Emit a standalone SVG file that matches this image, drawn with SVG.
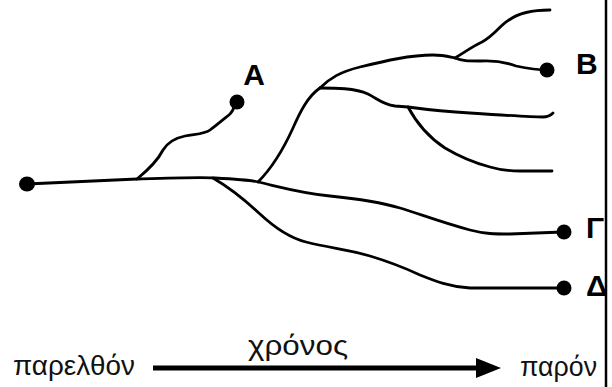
<svg xmlns="http://www.w3.org/2000/svg" width="612" height="387" viewBox="0 0 612 387">
<style>
.br{fill:none;stroke:#000;stroke-width:2.8;stroke-linecap:round;stroke-linejoin:round}
.dot{fill:#000}
.lbl{font-family:"Liberation Sans",Arial,sans-serif;font-weight:bold;font-size:30px;fill:#000}
.tm{font-family:"Liberation Sans",Arial,sans-serif;font-size:28px;fill:#111}
</style>
<rect width="612" height="387" fill="#fff"/>
<g id="connectors">
<path class="br" d="M27,184 L137,179 C170,178 200,177 215,178 C235,179 250,180 258,182 C280,187 300,193 330,196 C360,199 380,202 400,208 C420,214 440,222 470,230 C485,234 495,234 510,234 L563,232"/>
<path class="br" d="M213,178 C230,188 245,200 260,214 C275,228 290,238 306,242 C330,248 350,250 370,256 C390,262 405,268 420,275 C435,281 450,287 470,288 L563,288"/>
<path class="br" d="M137,179 C148,170 158,160 163,150 C168,142 175,138 185,136 C195,134 205,134 210,130 C218,124 225,118 230,114 C234,110 234,106 237,102"/>
<path class="br" d="M258,182 C272,168 283,150 293,128 C300,112 308,96 320,88"/>
<path class="br" d="M320,88 C330,78 340,72 360,67 C385,61 410,55 433,55 C443,55 450,57 455,58 C462,61 468,61 480,61 C495,60 505,62 516,66 C530,69 538,70 548,70"/>
<path class="br" d="M455,58 C468,50 475,45 482,42 C495,35 500,25 509,20 C520,12 535,10 550,10"/>
<path class="br" d="M320,88 C335,88 355,88 368,94 C378,99 382,104 395,106 L408,107 C430,110 450,112 470,113 C500,115 530,117 543,117 C548,117 551,115 553,113"/>
<path class="br" d="M408,107 C415,120 425,135 445,148 C460,157 475,163 490,167 C500,170 510,171 520,171 L552,171"/>
</g>
<g id="origin"><ellipse class="dot" cx="27" cy="184" rx="8" ry="7.5"/></g>
<g id="A"><circle class="dot" cx="237" cy="102" r="7.5"/><text class="lbl" x="254" y="85" text-anchor="middle">A</text></g>
<g id="B"><circle class="dot" cx="547" cy="70" r="7.5"/><text class="lbl" x="576" y="74">B</text></g>
<g id="G"><circle class="dot" cx="564" cy="232" r="7.5"/><text class="lbl" x="586" y="238">Γ</text></g>
<g id="D"><circle class="dot" cx="564" cy="288" r="7.5"/><text class="lbl" x="586" y="296">Δ</text></g>
<g id="timeline">
<line x1="153" y1="368" x2="482" y2="368" stroke="#000" stroke-width="5"/>
<polygon points="476,358 501,368 476,378" fill="#000"/>
<text class="tm" x="13" y="375" textLength="122" lengthAdjust="spacingAndGlyphs">παρελθόν</text>
<text class="tm" x="248" y="355" textLength="100" lengthAdjust="spacingAndGlyphs">χρόνος</text>
<text class="tm" x="520" y="376" textLength="77" lengthAdjust="spacingAndGlyphs">παρόν</text>
</g>
<line x1="606" y1="0" x2="606" y2="387" stroke="#000" stroke-width="2.5"/>
</svg>
